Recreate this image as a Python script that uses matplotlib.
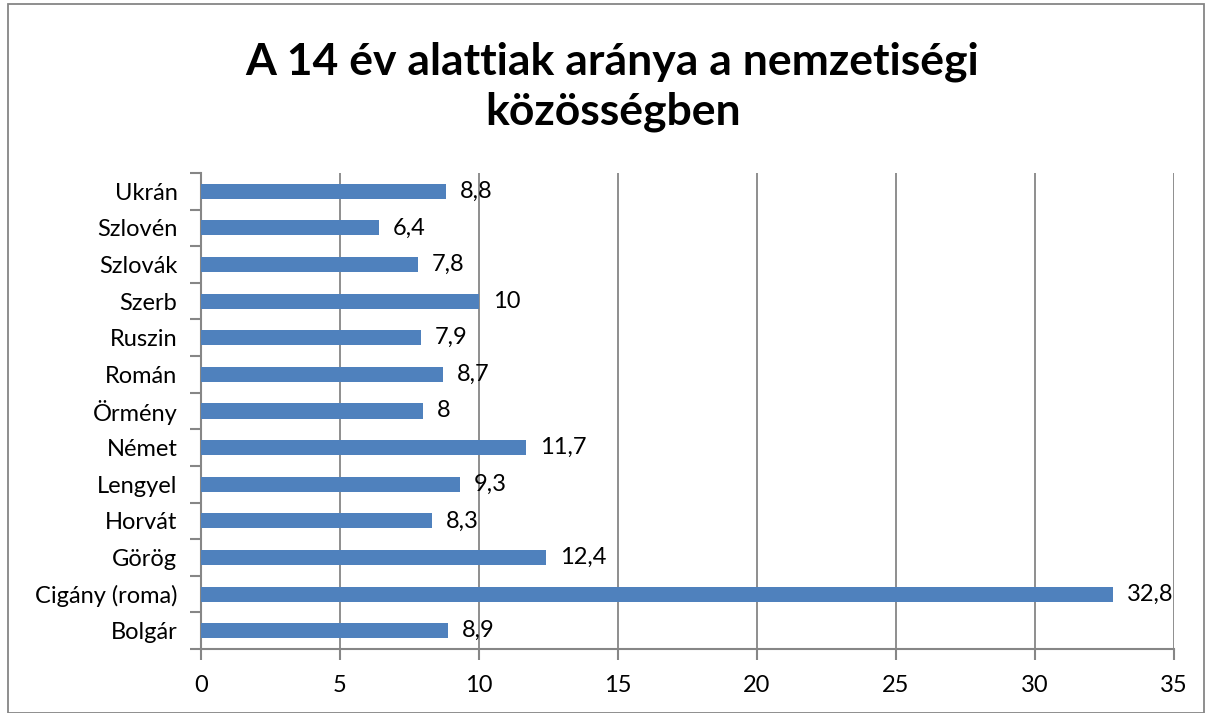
import matplotlib
matplotlib.use('Agg')
import matplotlib.pyplot as plt
from matplotlib.patches import Rectangle

plt.rcParams['font.family'] = ['Lato', 'DejaVu Sans']

cats = ['Bolgár', 'Cigány (roma)', 'Görög', 'Horvát', 'Lengyel', 'Német', 'Örmény',
        'Román', 'Ruszin', 'Szerb', 'Szlovák', 'Szlovén', 'Ukrán']
vals = [8.9, 32.8, 12.4, 8.3, 9.3, 11.7, 8.0, 8.7, 7.9, 10.0, 7.8, 6.4, 8.8]
val_labels = ['8,9', '32,8', '12,4', '8,3', '9,3', '11,7', '8', '8,7', '7,9', '10', '7,8', '6,4', '8,8']
xticks = [0, 5, 10, 15, 20, 25, 30, 35]

fig = plt.figure(figsize=(12.13, 7.13), dpi=100)
ax = fig.add_axes([201/1213, 1-649/713, 973/1213, 476/713])

ypos = range(len(cats))
ax.barh(ypos, vals, height=0.41, color='#4f81bd', zorder=3)
for y, v, t in zip(ypos, vals, val_labels):
    ax.text(v + 0.5, y, t, va='center', ha='left', fontsize=17, zorder=4)

ax.set_xlim(0, 35)
ax.set_ylim(-0.5, len(cats) - 0.5)
ax.set_xticks(xticks)
ax.set_xticklabels([str(x) for x in xticks], fontsize=17)
ax.set_yticks([i - 0.5 for i in range(len(cats) + 1)], minor=False)
ax.set_yticklabels([])
ax.set_yticks(list(ypos), minor=True)
ax.set_yticklabels(cats, minor=True, fontsize=17)
ax.tick_params(axis='y', which='minor', length=0, pad=17)
ax.tick_params(axis='y', which='major', length=8, color='#868686', width=1.5)
ax.tick_params(axis='x', length=8, color='#868686', width=1.5, pad=11)
ax.grid(axis='x', color='#868686', lw=1.3, zorder=0)
for s in ['top', 'right']:
    ax.spines[s].set_visible(False)
for s in ['left', 'bottom']:
    ax.spines[s].set_color('#868686')
    ax.spines[s].set_linewidth(1.5)

fig.text(0.505, 1-62/713, 'A 14 év alattiak aránya a nemzetiségi', ha='center', va='center',
         fontsize=32, fontweight='bold')
fig.text(0.505, 1-112/713, 'közösségben', ha='center', va='center',
         fontsize=32, fontweight='bold')

fig.patches.append(Rectangle((8/1213, 0), 1196/1213, 709/713, transform=fig.transFigure,
                             fill=False, edgecolor='#868686', lw=1.3))

fig.savefig('out.png', dpi=100)
